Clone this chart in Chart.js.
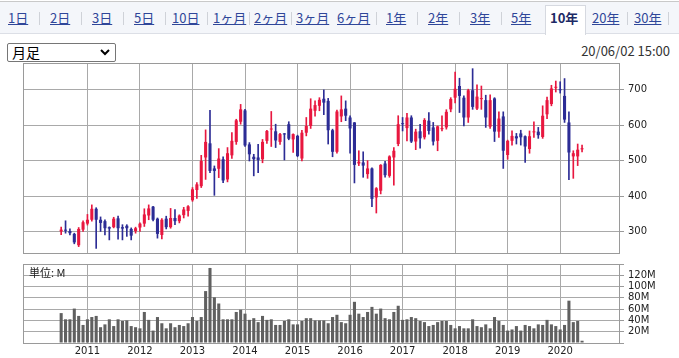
<!DOCTYPE html>
<html><head><meta charset="utf-8">
<script src="https://cdn.jsdelivr.net/npm/chart.js@4.4.1/dist/chart.umd.min.js"></script>
<style>
html,body{margin:0;padding:0;background:#fff;}
body{width:679px;height:358px;overflow:hidden;position:relative;font-family:"Noto Sans CJK JP","Noto Sans",sans-serif;}
#nav{position:absolute;left:0;top:1px;width:679px;height:31px;background:#f4f6fa;border-top:1px solid #c9c9c9;border-bottom:1px solid #dcdfe6;}
.tab{position:absolute;top:7px;line-height:20px;font-size:13px;color:#2f4699;text-decoration:underline;white-space:nowrap;}
.sep{position:absolute;top:11px;width:1px;height:13px;background:#cfd2d8;}
#sel{position:absolute;left:7px;top:5px;width:37px;height:29px;background:#fff;border:1px solid #d6d9e0;border-bottom:none;}
.cur{position:absolute;top:7px;line-height:20px;font-size:13px;font-weight:bold;color:#1d2a66;white-space:nowrap;}
#box{position:absolute;left:7px;top:43px;width:107px;height:17px;border:1px solid #767676;border-radius:2px;background:#fff;}
#box span{position:absolute;left:4px;top:-1px;font-size:14px;line-height:19px;color:#000;}
#box svg{position:absolute;left:92px;top:5px;}
#ts{position:absolute;right:9px;top:41px;font-size:13px;line-height:20px;color:#333;}
#unit{position:absolute;left:29px;top:265px;font-size:11px;line-height:15px;color:#222;}
canvas{position:absolute;left:0;}
</style></head>
<body>
<div id="nav"></div>
<div id="box"><span>月足</span><svg width="10" height="7" viewBox="0 0 10 7"><polyline points="1,1 5,5 9,1" fill="none" stroke="#000" stroke-width="2"/></svg></div>
<div id="ts">20/06/02 15:00</div>
<canvas id="main" width="679" height="225" style="top:43px"></canvas>
<canvas id="vol" width="679" height="104" style="top:254px"></canvas>
<div id="unit">単位: M</div>
<script>
// ---- data (monthly, 2010/07 .. 2020/06) ----
const startYear = 2010, startMonth = 7, monthCount = 120;
const months = [];
for (let i = 0; i < monthCount; i++) {
  const mm = startMonth - 1 + i;
  months.push((startYear + Math.floor(mm / 12)) + '/' + String(mm % 12 + 1).padStart(2, '0'));
}
const openP = [300,305,301,293,261,305,322,333,364,333,329,312,312,337,312,316,307,301,311,322,345,370,336,290,336,312,338,329,346,358,
388,417,428,509,549,478,477,504,447,515,553,610,642,546,511,509,504,556,588,583,553,577,603,560,570,506,579,598,641,655,
675,669,586,525,625,647,622,608,492,495,462,478,396,415,492,457,509,547,604,592,622,554,583,566,613,594,556,589,594,645,
678,711,678,622,699,647,674,671,596,676,582,625,516,556,569,577,569,533,580,582,567,631,660,706,701,683,608,512,512,532];
const highP = [312,330,307,295,311,330,348,375,367,341,333,313,340,343,319,319,310,312,324,364,375,371,338,336,343,365,362,347,368,373,
424,438,515,587,642,485,534,511,537,579,617,659,645,551,518,546,560,586,639,603,577,577,610,576,572,586,622,675,669,678,
700,676,589,643,683,669,627,608,528,525,500,480,424,489,498,514,537,627,622,634,627,589,603,619,636,608,598,627,644,678,
750,733,683,702,760,714,711,685,686,678,638,638,558,584,577,586,570,584,610,594,655,680,713,725,723,732,638,528,547,544];
const lowP = [291,295,290,265,257,300,318,329,252,300,290,276,310,278,276,286,276,295,300,314,333,330,281,279,307,309,319,324,338,343,
385,393,424,447,466,402,452,438,440,506,546,603,540,499,457,466,494,549,540,537,546,502,559,523,511,499,570,591,626,641,
630,547,511,521,610,613,521,437,486,453,450,370,352,406,453,453,431,542,584,556,551,531,535,561,575,544,528,584,589,638,
663,636,598,608,645,644,645,594,591,554,566,478,504,544,547,544,495,521,566,563,563,619,655,694,691,608,446,450,486,525];
const closeP = [305,302,295,269,307,326,333,364,333,324,309,308,336,309,308,309,288,309,322,348,365,333,293,333,312,338,329,345,362,371,
419,433,499,553,471,471,506,444,521,556,614,645,543,518,504,502,553,584,590,557,575,574,562,575,513,579,598,647,657,672,
664,586,525,639,645,627,591,488,497,486,478,392,422,488,459,512,528,603,603,622,554,582,563,615,584,554,597,592,638,674,
703,683,622,699,652,681,676,622,671,582,619,528,556,570,563,566,540,569,582,572,627,671,704,707,699,616,523,521,531,535];
const volumeM = [53,42,42,61,48,32,42,46,48,28,33,42,30,42,39,40,30,28,26,55,41,22,46,35,26,35,28,32,30,35,
46,39,46,92,133,81,70,42,42,42,55,59,52,41,44,37,48,41,42,32,32,39,42,33,33,39,44,44,40,40,
40,35,46,50,37,35,50,73,52,46,55,64,52,61,44,42,55,66,41,42,46,44,39,37,30,32,37,39,39,32,
26,30,26,26,42,30,28,33,26,46,39,32,22,24,30,22,32,30,26,33,32,41,33,30,24,32,75,37,39,4];
const yearLabels = ['2011','2012','2013','2014','2015','2016','2017','2018','2019','2020'];
const priceTicks = [300,400,500,600,700];
const volumeTicks = [0,20,40,60,80,100,120,140];

// ---- nav ----
const tabs = [['1日',8],['2日',50],['3日',92],['5日',134],['10日',172],['1ヶ月',213],['2ヶ月',254],['3ヶ月',296],['6ヶ月',337],['1年',386],['2年',428],['3年',470],['5年',511],['10年',550,true],['20年',592],['30年',634]];
const seps = [39,81,123,165,207,249,291,376,417,459,501,627,668];
const nav = document.getElementById('nav');
nav.insertAdjacentHTML('beforeend','<div id="sel" style="left:545px;top:3px;width:39px;height:29px"></div>');
tabs.forEach(t => {
  const d = document.createElement('div');
  d.className = t[2] ? 'cur' : 'tab';
  d.style.left = t[1] + 'px';
  d.style.top = '6px';
  d.textContent = t[0];
  nav.appendChild(d);
});
seps.forEach(x => { const s = document.createElement('div'); s.className = 'sep'; s.style.left = x + 'px'; s.style.top='10px'; nav.appendChild(s); });

// ---- charts ----
Chart.defaults.font.family = 'DejaVu Sans';
Chart.defaults.font.size = 10;
Chart.defaults.color = '#222';
const RED = '#e8173f', BLUE = '#2c2c95';
const idx = months.map((m, i) => i);
const yearTickIndex = yearLabels.map(y => months.indexOf(y + '/01'));
const xMin = -8.72, xMax = 127.44;
const GRID = '#a9a9a9', BORDER = '#9a9a9a';
const candleColor = idx.map(i => closeP[i] >= openP[i] ? RED : BLUE);

const frame = { id: 'frame', afterDraw(c) {
  const a = c.chartArea, x = c.ctx;
  x.save(); x.strokeStyle = BORDER; x.lineWidth = 1;
  x.strokeRect(Math.round(a.left) + 0.5, Math.round(a.top) + 0.5, Math.round(a.right - a.left), Math.round(a.bottom - a.top));
  x.restore();
}};

function xScale(showLabels) {
  return {
    type: 'linear', min: xMin, max: xMax, offset: false,
    afterBuildTicks: s => { s.ticks = yearTickIndex.map(v => ({ value: v })); },
    afterFit: s => { s.height = 15; },
    grid: { color: GRID, drawTicks: false, offset: false },
    border: { display: false },
    ticks: { display: showLabels, autoSkip: false, maxRotation: 0, padding: 2,
      callback: v => { const k = yearTickIndex.indexOf(v); return k >= 0 ? yearLabels[k] : ''; } }
  };
}

new Chart(document.getElementById('main'), {
  type: 'bar',
  data: { datasets: [
    { data: idx.map(i => ({ x: i, y: [openP[i], closeP[i]] })), backgroundColor: candleColor,
      barPercentage: 0.7, categoryPercentage: 1, grouped: false, minBarLength: 1, order: 0 },
    { data: idx.map(i => ({ x: i, y: [lowP[i], highP[i]] })), backgroundColor: candleColor,
      barThickness: 1, grouped: false, order: 1 }
  ]},
  options: {
    responsive: false, animation: false, events: [],
    layout: { padding: { left: 23, top: 20, right: 0, bottom: 0 } },
    plugins: { legend: { display: false }, tooltip: { enabled: false } },
    scales: {
      x: xScale(false),
      y: { position: 'right', min: 239, max: 776,
        afterBuildTicks: s => { s.ticks = priceTicks.map(v => ({ value: v })); },
        afterFit: s => { s.width = 60; },
        grid: { color: GRID, tickColor: BORDER, tickLength: 5 },
        border: { color: BORDER },
        ticks: { padding: 4, autoSkip: false, callback: v => String(v) } }
    }
  },
  plugins: [frame]
});

new Chart(document.getElementById('vol'), {
  type: 'bar',
  data: { datasets: [
    { data: idx.map(i => ({ x: i, y: volumeM[i] })), backgroundColor: '#606060',
      barPercentage: 0.7, categoryPercentage: 1 }
  ]},
  options: {
    responsive: false, animation: false, events: [],
    layout: { padding: { left: 23, top: 10, right: 0, bottom: 0 } },
    plugins: { legend: { display: false }, tooltip: { enabled: false } },
    scales: {
      x: xScale(true),
      y: { position: 'right', min: 0, max: 140,
        afterBuildTicks: s => { s.ticks = volumeTicks.map(v => ({ value: v })); },
        afterFit: s => { s.width = 60; },
        grid: { color: GRID, tickColor: BORDER, tickLength: 5 },
        border: { color: BORDER },
        ticks: { padding: 4, autoSkip: false, font: { size: 10, lineHeight: 1 },
          callback: v => (v === 0 || v === 140) ? '' : v + 'M' } }
    }
  },
  plugins: [frame]
});
</script>
</body></html>
